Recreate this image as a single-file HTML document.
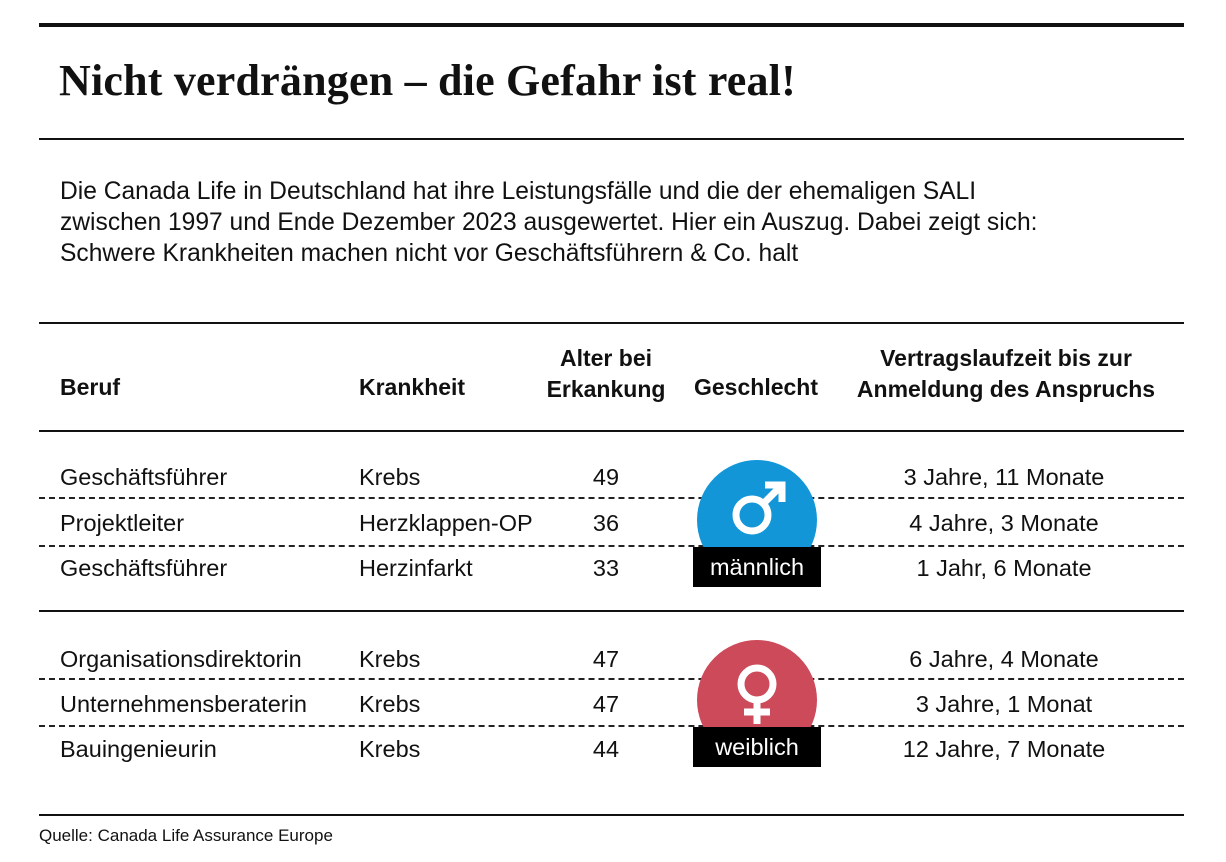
<!DOCTYPE html>
<html><head><meta charset="utf-8"><style>
body{margin:0;width:1226px;height:862px;background:#fff;position:relative;font-family:"Liberation Sans",sans-serif;color:#111;overflow:hidden}
.a{position:absolute;white-space:nowrap}
.hl{position:absolute;left:39px;width:1145px;background:#111}
.dl{position:absolute;left:39px;width:1145px;border-top:2px dashed #222;height:0}
.t{font-size:23.5px}
.c{text-align:center}
.h{font-size:23px;font-weight:bold}
.lab{position:absolute;left:693px;width:128px;height:40px;background:#000;color:#fff;font-size:23.5px;text-align:center;line-height:40px}
</style></head><body>
<div class="hl" style="top:23px;height:4px"></div>
<div class="a" style="left:59px;top:55px;font-family:'Liberation Serif',serif;font-weight:bold;font-size:44px;letter-spacing:0.2px">Nicht verdrängen – die Gefahr ist real!</div>
<div class="hl" style="top:138px;height:2px"></div>
<div class="a" style="left:60px;top:176px;line-height:31px;font-size:24.6px">Die Canada Life in Deutschland hat ihre Leistungsfälle und die der ehemaligen SALI<br>zwischen 1997 und Ende Dezember 2023 ausgewertet. Hier ein Auszug. Dabei zeigt sich:<br>Schwere Krankheiten machen nicht vor Geschäftsführern &amp; Co. halt</div>
<div class="hl" style="top:322px;height:2px"></div>
<div class="a h" style="left:60px;top:374px">Beruf</div>
<div class="a h" style="left:359px;top:374px">Krankheit</div>
<div class="a h c" style="left:536px;width:140px;top:343px;line-height:31px">Alter bei<br>Erkankung</div>
<div class="a h" style="left:694px;top:374px">Geschlecht</div>
<div class="a h c" style="left:838px;width:336px;top:343px;line-height:31px">Vertragslaufzeit bis zur<br>Anmeldung des Anspruchs</div>
<div class="hl" style="top:430px;height:2px"></div>
<div class="dl" style="top:497px"></div>
<div class="dl" style="top:545px"></div>
<div class="hl" style="top:610px;height:2px"></div>
<div class="dl" style="top:678px"></div>
<div class="dl" style="top:725px"></div>
<div class="hl" style="top:814px;height:2px"></div>

<div class="a t" style="left:60px;top:464px">Geschäftsführer</div>
<div class="a t" style="left:359px;top:464px">Krebs</div>
<div class="a t c" style="left:576px;width:60px;top:464px">49</div>
<div class="a t c" style="left:854px;width:300px;top:464px">3 Jahre, 11 Monate</div>
<div class="a t" style="left:60px;top:510px">Projektleiter</div>
<div class="a t" style="left:359px;top:510px">Herzklappen-OP</div>
<div class="a t c" style="left:576px;width:60px;top:510px">36</div>
<div class="a t c" style="left:854px;width:300px;top:510px">4 Jahre, 3 Monate</div>
<div class="a t" style="left:60px;top:555px">Geschäftsführer</div>
<div class="a t" style="left:359px;top:555px">Herzinfarkt</div>
<div class="a t c" style="left:576px;width:60px;top:555px">33</div>
<div class="a t c" style="left:854px;width:300px;top:555px">1 Jahr, 6 Monate</div>

<div class="a t" style="left:60px;top:646px">Organisationsdirektorin</div>
<div class="a t" style="left:359px;top:646px">Krebs</div>
<div class="a t c" style="left:576px;width:60px;top:646px">47</div>
<div class="a t c" style="left:854px;width:300px;top:646px">6 Jahre, 4 Monate</div>
<div class="a t" style="left:60px;top:691px">Unternehmensberaterin</div>
<div class="a t" style="left:359px;top:691px">Krebs</div>
<div class="a t c" style="left:576px;width:60px;top:691px">47</div>
<div class="a t c" style="left:854px;width:300px;top:691px">3 Jahre, 1 Monat</div>
<div class="a t" style="left:60px;top:736px">Bauingenieurin</div>
<div class="a t" style="left:359px;top:736px">Krebs</div>
<div class="a t c" style="left:576px;width:60px;top:736px">44</div>
<div class="a t c" style="left:854px;width:300px;top:736px">12 Jahre, 7 Monate</div>

<svg class="a" style="left:0;top:0" width="1226" height="862">
<circle cx="757" cy="520" r="60" fill="#1296d8"/>
<circle cx="752" cy="515" r="16" fill="none" stroke="#fff" stroke-width="7"/>
<path d="M763 504 L779 488 M765 485 L782 485 L782 502" stroke="#fff" stroke-width="7" fill="none"/>
<circle cx="757" cy="700" r="60" fill="#cc4a5a"/>
<circle cx="757" cy="684" r="16" fill="none" stroke="#fff" stroke-width="7"/>
<path d="M757 702 L757 724 M744 712 L770 712" stroke="#fff" stroke-width="7"/>
</svg>
<div class="lab" style="top:547px">männlich</div>
<div class="lab" style="top:727px">weiblich</div>
<div class="a" style="left:39px;top:826px;font-size:17px">Quelle: Canada Life Assurance Europe</div>
</body></html>
